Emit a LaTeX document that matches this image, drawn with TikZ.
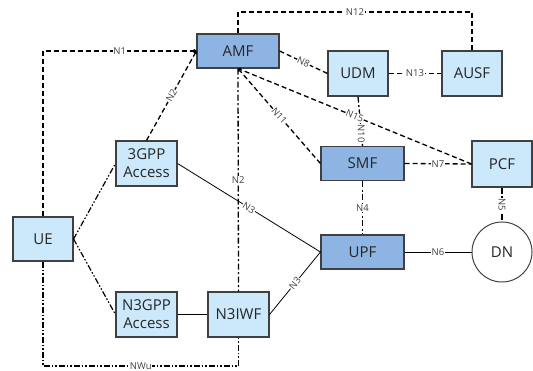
\documentclass[tikz,border=0pt]{standalone}
\usepackage{fontspec}
\setmainfont{Open Sans}
\usetikzlibrary{arrows.meta}
\definecolor{lightbox}{HTML}{CCE8FB}
\definecolor{darkbox}{HTML}{8EB4E3}
\definecolor{boxborder}{HTML}{404040}
\definecolor{txt}{HTML}{262626}
\begin{document}
\begin{tikzpicture}[x=1pt,y=-1pt,
  nf/.style={draw=boxborder,line width=1.1pt,fill=lightbox,text=txt,
    font=\fontsize{15}{18}\selectfont,align=center,inner sep=0pt,
    minimum width=60pt,minimum height=45pt},
  core/.style={nf,fill=darkbox,minimum width=83pt,minimum height=34pt},
  lbl/.style={fill=white,inner sep=0.6pt,text=boxborder,font=\fontsize{9.5}{10}\selectfont},
  dsh/.style={line width=1.3pt,dash pattern=on 5pt off 3pt},
  dd/.style={line width=1.3pt,dash pattern=on 6pt off 2.5pt on 2pt off 2.5pt},
  ddd/.style={line width=1.2pt,dash pattern=on 6pt off 2pt on 1.5pt off 2pt on 1.5pt off 2pt},
  sol/.style={line width=0.8pt},
  arr/.style={-{To[length=3pt,width=4pt]}}]
\useasboundingbox (0,0) rectangle (533,371);

\node[core,minimum width=82pt] (AMF) at (238,51) {AMF};
\node[nf] (UDM) at (358,73.5) {UDM};
\node[nf] (AUSF) at (472,73.5) {AUSF};
\node[core] (SMF) at (362.5,163.5) {SMF};
\node[nf,minimum height=46pt] (PCF) at (502,164) {PCF};
\node[nf,minimum width=61pt] (G3) at (146.5,163.5) {3GPP\\Access};
\node[nf,minimum height=44pt] (UE) at (43,239) {UE};
\node[nf,minimum width=61pt] (N3G) at (146.5,314.5) {N3GPP\\Access};
\node[nf,minimum width=61pt] (IWF) at (238.5,314.5) {N3IWF};
\node[core] (UPF) at (362.5,252) {UPF};
\node[circle,draw=boxborder,line width=1pt,fill=white,text=txt,
  font=\fontsize{15}{18}\selectfont,minimum size=60pt,inner sep=0pt] (DN) at (502,252) {DN};

\coordinate (c12a) at (238,12);
\coordinate (c12b) at (472,12);
\coordinate (c1) at (43,51);
\coordinate (cwa) at (43,366);
\coordinate (cwb) at (238.5,366);

% dashed links
\draw[dsh] (AMF.north) -- (c12a) -- node[lbl]{N12} (c12b) -- (AUSF.north);
\draw[dsh,arr] (UE.north) -- (c1) -- node[lbl]{N1} (AMF.west);
\draw[dsh,arr] (G3.north) -- node[lbl,sloped]{N2} (AMF.west);
\draw[dsh] (AMF.east) -- node[lbl,sloped]{N8} (UDM.west);
\draw[dsh] (UDM.east) -- node[lbl]{N13} (AUSF.west);
\draw[dsh,arr] (SMF.west) -- node[lbl,sloped]{N11} (AMF.south);
\draw[dd] (UDM.south) -- node[lbl,rotate=-90,pos=0.75]{N10} (SMF.north);
\draw[dsh,arr] (PCF.west) -- node[lbl,sloped]{N15} (AMF.south);
\draw[dsh] (SMF.east) -- node[lbl]{N7} (PCF.west);
\draw[dd] (AMF.south) -- node[lbl]{N2} (IWF.north);
\draw[dd] (SMF.south) -- node[lbl]{N4} (UPF.north);
\draw[dd] (PCF.south) -- node[lbl,rotate=-90]{N5} (DN.north);

% UE links
\draw[ddd] (UE.east) -- (G3.west);
\draw[ddd] (UE.east) -- (N3G.west);
\draw[ddd] (UE.south) -- (cwa) -- node[lbl]{NWu} (cwb) -- (IWF.south);

% solid links
\draw[sol] (G3.east) -- node[lbl,sloped]{N3} (UPF.west);
\draw[sol] (IWF.east) -- node[lbl,sloped]{N3} (UPF.west);
\draw[sol] (N3G.east) -- (IWF.west);
\draw[sol] (UPF.east) -- node[lbl]{N6} (DN.west);
\end{tikzpicture}
\end{document}
